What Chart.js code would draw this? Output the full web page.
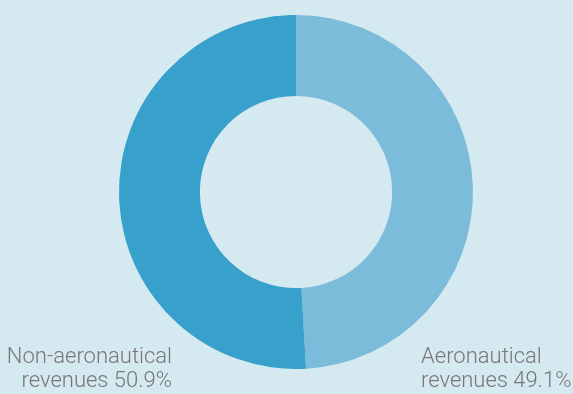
<!DOCTYPE html>
<html>
<head>
<meta charset="utf-8">
<script src="https://cdn.jsdelivr.net/npm/chart.js@4"></script>
<style>
html,body{margin:0;padding:0;background:#d5e9f0;}
#wrap{position:relative;width:573px;height:394px;}
</style>
</head>
<body>
<div id="wrap"><canvas id="c" width="573" height="394"></canvas></div>
<script>
const categories = ["Aeronautical revenues", "Non-aeronautical revenues"];
const labelLines = [["Aeronautical", "revenues 49.1%"], ["Non-aeronautical", "revenues 50.9%"]];
const shares = [49.1, 50.9];
const colors = ["#7bbcdb", "#37a0cb"];

const labelPlugin = {
  id: 'sideLabels',
  afterDraw(chart) {
    const ctx = chart.ctx;
    ctx.save();
    ctx.fillStyle = '#777777';
    ctx.font = '300 22px Roboto, Lato, "Open Sans", sans-serif';
    ctx.textBaseline = 'alphabetic';
    // right label (Aeronautical) left-aligned
    ctx.textAlign = 'left';
    labelLines[0].forEach((t, i) => ctx.fillText(t, 421, 363 + i * 24));
    // left label (Non-aeronautical) right-aligned
    ctx.textAlign = 'right';
    labelLines[1].forEach((t, i) => ctx.fillText(t, 172, 363 + i * 24));
    ctx.restore();
  }
};

new Chart(document.getElementById('c'), {
  type: 'doughnut',
  data: {
    labels: categories,
    datasets: [{
      data: shares,
      backgroundColor: colors,
      borderWidth: 0,
      hoverOffset: 0
    }]
  },
  options: {
    responsive: false,
    animation: false,
    cutout: '54.3%',
    layout: { padding: { left: 119, right: 100, top: 15, bottom: 25 } },
    plugins: { legend: { display: false }, tooltip: { enabled: false } }
  },
  plugins: [labelPlugin]
});
</script>
</body>
</html>
